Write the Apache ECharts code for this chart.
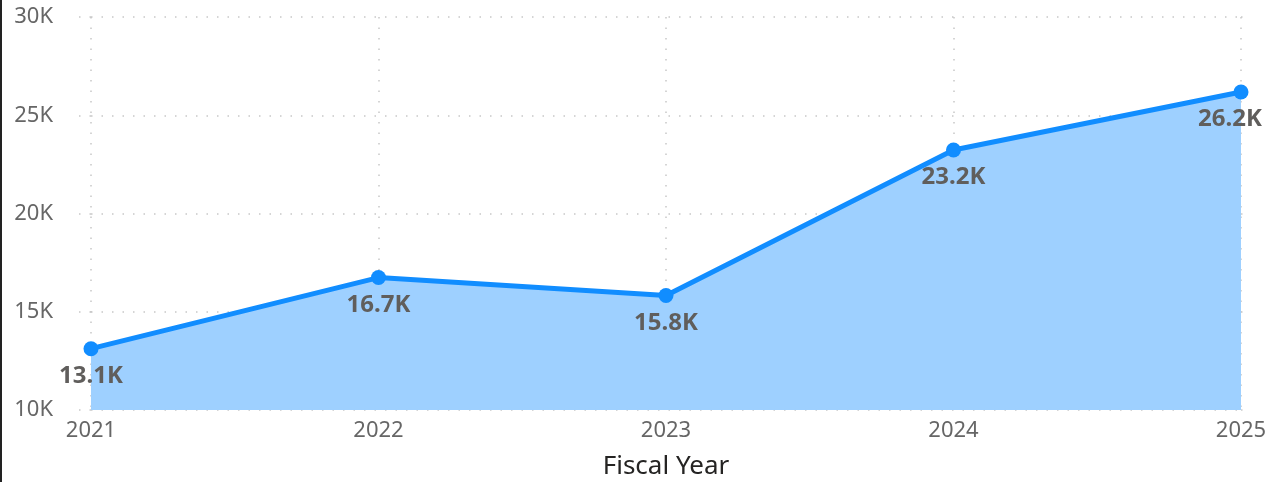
<!DOCTYPE html>
<html><head><meta charset="utf-8">
<script src="https://cdn.jsdelivr.net/npm/echarts@6/dist/echarts.min.js"></script>
<style>html,body{margin:0;padding:0;background:#fff;}#c{width:1269px;height:482px;}</style>
</head><body><div id="c"></div>
<script>
const categories = ['2021','2022','2023','2024','2025'];
const values = [13120, 16740, 15830, 23230, 26180];
const yTicks = [10000, 15000, 20000, 25000, 30000];
const axisTitle = 'Fiscal Year';

const font = '"Noto Sans", "Open Sans", sans-serif';
const chart = echarts.init(document.getElementById('c'));
const kfmt = v => (v/1000).toFixed(0) + 'K';
const lastIdx = values.length - 1;
chart.setOption({
  animation: false,
  grid: {left: 91, right: 28, top: 17, bottom: 72, containLabel: false, outerBoundsMode: 'none'},
  graphic: [{type:'rect', shape:{x:0,y:0,width:2,height:482}, style:{fill:'#222'}}],
  xAxis: {
    type: 'category', data: categories, boundaryGap: false,
    axisLine: {show: false}, axisTick: {show: false},
    axisLabel: {color: '#666', fontSize: 22, fontFamily: font, margin: 10},
    splitLine: {show: true, lineStyle: {type: [1.5, 9], color: '#c8c8c8', width: 1.5}},
    name: axisTitle, nameLocation: 'middle', nameGap: 44,
    nameTextStyle: {color: '#252423', fontSize: 26, fontFamily: font}
  },
  yAxis: [{
    type: 'value', min: yTicks[0], max: yTicks[yTicks.length-1], interval: 5000,
    axisLine: {show: false},
    axisTick: {show: true, length: 21, lineStyle: {type: [1.5, 9], color: '#c8c8c8', width: 1.5}},
    axisLabel: {color: '#666', fontSize: 22, fontFamily: font, margin: 38, formatter: kfmt},
    splitLine: {show: true, lineStyle: {type: [1.5, 9], color: '#c8c8c8', width: 1.5}}
  },{
    type: 'value', min: yTicks[0], max: yTicks[yTicks.length-1], interval: 5000, position: 'right',
    axisLine: {show: false}, axisLabel: {show: false}, splitLine: {show: false},
    axisTick: {show: true, length: 10, lineStyle: {type: [1.5, 9], color: '#c8c8c8', width: 1.5}}
  }],
  series: [{
    type: 'line',
    data: values.map((v, i) => i === lastIdx ? {value: v, label: {offset: [-11, 0]}} : v),
    symbol: 'circle', symbolSize: 15,
    lineStyle: {color: '#118DFF', width: 5},
    itemStyle: {color: '#118DFF'},
    areaStyle: {color: '#9ED0FF', opacity: 1},
    label: {show: true, position: 'bottom', distance: 8, color: '#605E5C', fontSize: 24, fontWeight: 'bold', fontFamily: font,
      formatter: p => (p.value/1000).toFixed(1) + 'K'}
  }]
});
</script></body></html>
